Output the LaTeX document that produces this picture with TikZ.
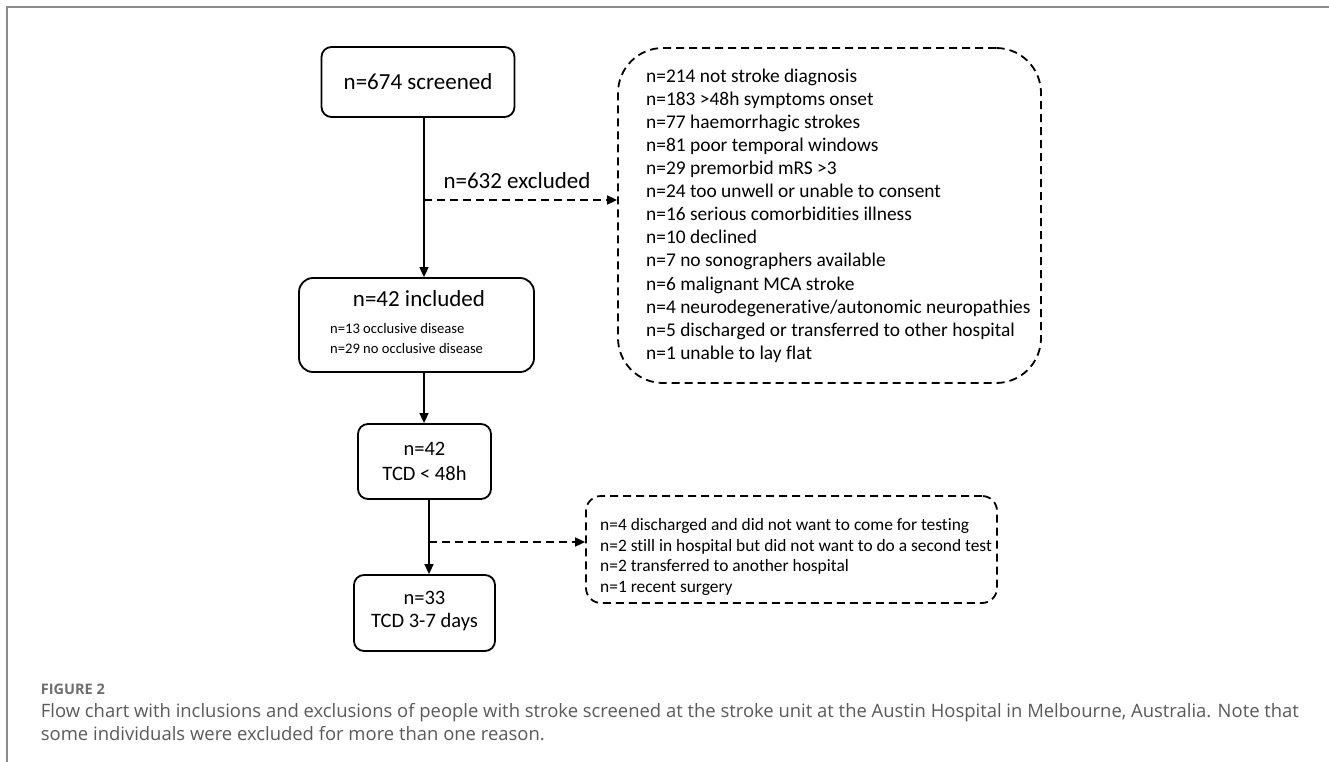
\documentclass[tikz,border=0pt]{standalone}
\usepackage{fontspec}
\setmainfont{Carlito}[Ligatures={NoCommon}]
\newfontfamily\capfont{Open Sans}
\usetikzlibrary{arrows.meta}
\definecolor{framegray}{RGB}{140,140,140}
\definecolor{figgray}{RGB}{110,110,110}
\definecolor{capgray}{RGB}{90,90,90}
\newlength\capw
\newlength\figw
\begin{document}
\settowidth\capw{\capfont\fontsize{10}{12}\selectfont Flow chart with inclusions and exclusions of people with stroke screened at the stroke unit at the Austin Hospital in Melbourne, Australia. Note that}%
\settowidth\figw{\capfont\bfseries\fontsize{10}{12}\selectfont FIGURE 2}%
\pgfmathsetmacro\capsz{10*1258/\capw}%
\pgfmathsetmacro\figsz{10*64/\figw}%
\begin{tikzpicture}[x=1pt,y=-1pt,
  box/.style={draw, line width=1.8pt, rounded corners=10pt, inner sep=0pt},
  dbox/.style={draw, line width=1.8pt, dash pattern=on 8pt off 5pt, inner sep=0pt},
  conn/.style={line width=1.6pt, -{Triangle[length=10pt,width=9pt]}},
  dconn/.style={conn, dash pattern=on 8pt off 5pt},
  txt/.style={inner sep=0pt, anchor=base west},
  ctxt/.style={inner sep=0pt, anchor=base},
  big/.style={font=\fontsize{23}{27}\selectfont},
  mid/.style={font=\fontsize{20.5}{25}\selectfont}]
\useasboundingbox (0,0) rectangle (1329,762);
\fill[white] (0,0) rectangle (1329,762);
% frame
\draw[line width=2pt, framegray] (7.3,762) -- (7.3,7.3) -- (1329,7.3);

% boxes
\node[box, minimum width=193pt, minimum height=70pt] (scr) at (418,82) {};
\node[ctxt, big] (scrt) at (418,90) {n=674 screened};

\node[box, rounded corners=14pt, minimum width=235pt, minimum height=94pt] (inc) at (416.5,325) {};
\node[ctxt, big] (inct) at (419,306) {n=42 included};
\node[txt, font=\fontsize{14.6}{20}\selectfont] (inc1) at (330,333.5) {n=13 occlusive disease};
\node[txt, font=\fontsize{14.6}{20}\selectfont] (inc2) at (330,353.5) {n=29 no occlusive disease};

\node[box, minimum width=133pt, minimum height=75pt] (t48) at (424.5,461.5) {};
\node[ctxt, mid] (t48a) at (424.5,455) {n=42};
\node[ctxt, mid] (t48b) at (424.5,480) {TCD < 48h};

\node[box, minimum width=141pt, minimum height=76pt] (d37) at (424.5,613) {};
\node[ctxt, mid] (d37a) at (424.5,604) {n=33};
\node[ctxt, mid] (d37b) at (424.5,627) {TCD 3-7 days};

% big exclusion box
\node[dbox, rounded corners=45pt, minimum width=423pt, minimum height=335pt] (exc) at (829.5,215.5) {};
\foreach \t [count=\i] in {n=214 not stroke diagnosis,
  n=183 >48h symptoms onset,
  n=77 haemorrhagic strokes,
  n=81 poor temporal windows,
  n=29 premorbid mRS >3,
  n=24 too unwell or unable to consent,
  n=16 serious comorbidities illness,
  n=10 declined,
  n=7 no sonographers available,
  n=6 malignant MCA stroke,
  n=4 neurodegenerative/autonomic neuropathies,
  n=5 discharged or transferred to other hospital,
  n=1 unable to lay flat}
  \node[txt, font=\fontsize{19.4}{23}\selectfont] (e\i) at (646,{75.7+23.1*(\i-1)+6.4}) {\t};

% small exclusion box
\node[dbox, rounded corners=15pt, minimum width=411pt, minimum height=107pt] (sm) at (791.5,549.5) {};
\foreach \t [count=\i] in {n=4 discharged and did not want to come for testing,
  n=2 still in hospital but did not want to do a second test,
  n=2 transferred to another hospital,
  n=1 recent surgery}
  \node[txt, font=\fontsize{17.4}{21}\selectfont] (s\i) at (600,{524.5+20.8*(\i-1)+5.7}) {\t};

% label
\node[ctxt, big] (exl) at (517,188) {n=632 excluded};

% connectors
\coordinate (j1) at (424,200);
\coordinate (j2) at (429,542);
\draw[conn] (scr.south -| j1) -- (inc.north -| j1);
\draw[dconn] (j1) -- (exc.west |- j1);
\draw[conn] (inc.south -| j1) -- (t48.north -| j1);
\draw[conn] (t48.south -| j2) -- (d37.north -| j2);
\draw[dconn] (j2) -- (sm.west |- j2);

% caption
\node[txt, text=figgray, font=\capfont\bfseries\fontsize{\figsz}{18}\selectfont] (figl) at (40.7,694) {FIGURE 2};
\node[txt, text=capgray, font=\capfont\fontsize{\capsz}{20}\selectfont] (cap1) at (40.7,717.5) {Flow chart with inclusions and exclusions of people with stroke screened at the stroke unit at the Austin Hospital in Melbourne, Australia. Note that};
\node[txt, text=capgray, font=\capfont\fontsize{\capsz}{20}\selectfont] (cap2) at (40.7,740) {some individuals were excluded for more than one reason.};
\end{tikzpicture}
\end{document}
